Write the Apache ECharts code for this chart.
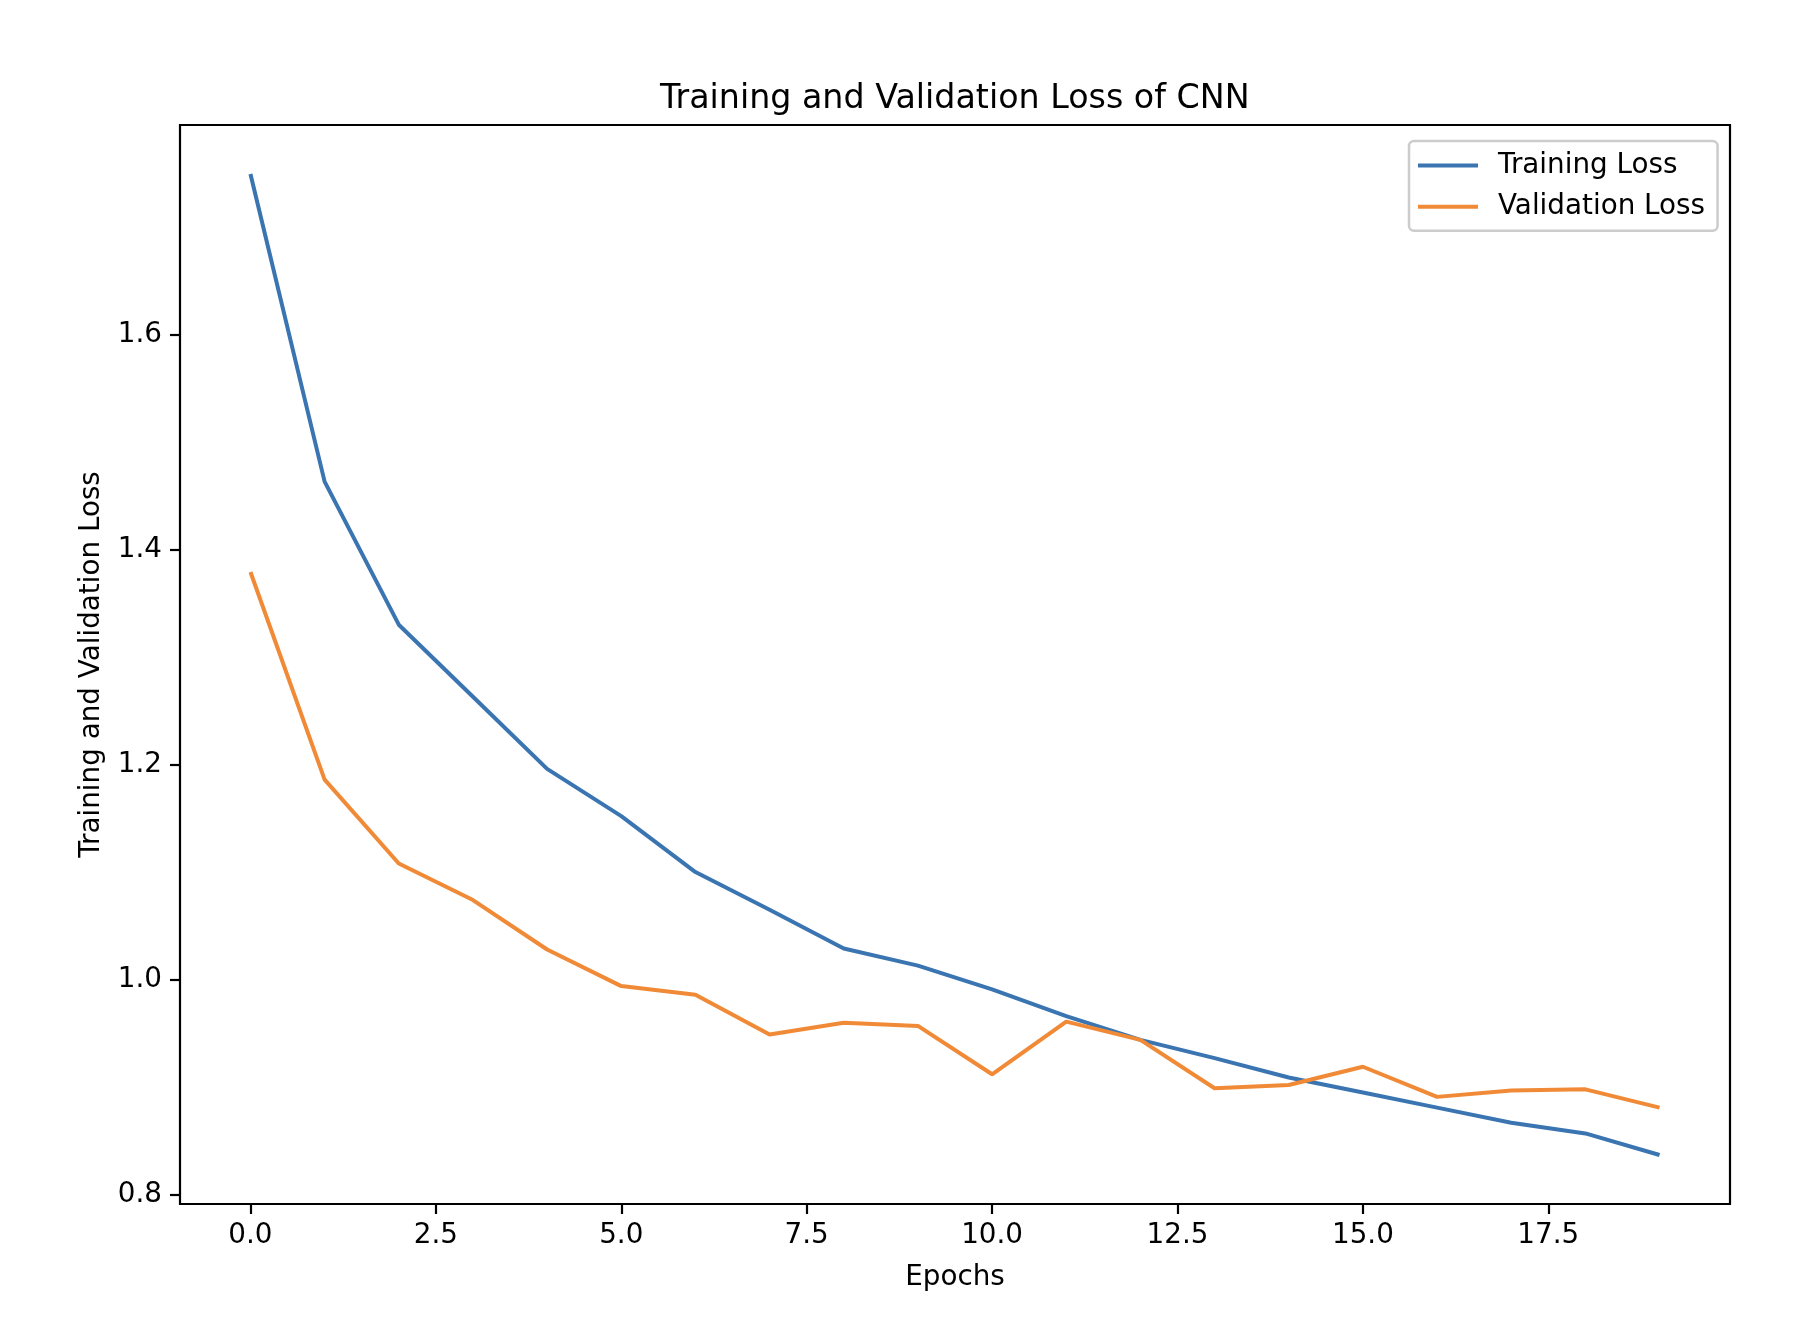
<!DOCTYPE html>
<html>
<head>
<meta charset="utf-8">
<script src="https://cdn.jsdelivr.net/npm/echarts@6/dist/echarts.min.js"></script>
<style>
  html, body { margin: 0; padding: 0; background: #fff; }
  #chart { width: 1812px; height: 1328px; }
</style>
</head>
<body>
<div id="chart"></div>
<script>
const epochs = [0, 1, 2, 3, 4, 5, 6, 7, 8, 9, 10, 11, 12, 13, 14, 15, 16, 17, 18, 19];
const trainingLoss = [1.749, 1.463, 1.330, 1.263, 1.196, 1.152, 1.100, 1.065, 1.029, 1.013, 0.991, 0.966, 0.944, 0.927, 0.909, 0.895, 0.881, 0.867, 0.857, 0.837];
const validationLoss = [1.379, 1.186, 1.108, 1.074, 1.028, 0.994, 0.986, 0.949, 0.960, 0.957, 0.912, 0.961, 0.944, 0.899, 0.902, 0.919, 0.891, 0.897, 0.898, 0.881];
const xTicks = [0, 2.5, 5, 7.5, 10, 12.5, 15, 17.5];
const yTicks = [0.8, 1.0, 1.2, 1.4, 1.6];
const seriesNames = ['Training Loss', 'Validation Loss'];
const titleText = 'Training and Validation Loss of CNN';
const xName = 'Epochs';
const yName = 'Training and Validation Loss';

const FONT = 'DejaVu Sans';
const chart = echarts.init(document.getElementById('chart'), null, { renderer: 'canvas' });

const option = {
  animation: false,
  backgroundColor: '#ffffff',
  title: {
    text: titleText,
    left: 660,
    top: 83,
    padding: 0,
    textStyle: { fontFamily: FONT, fontSize: 33.3, fontWeight: 'normal', color: '#000' }
  },
  legend: {
    orient: 'vertical',
    left: 1409,
    top: 141,
    padding: [10.5, 12.5, 10, 9],
    itemGap: 13.3,
    itemWidth: 60,
    itemHeight: 4,
    itemTextGap: 5,
    icon: 'rect',
    backgroundColor: 'rgba(255,255,255,0.8)',
    borderColor: '#cccccc',
    borderWidth: 2.5,
    borderRadius: 5,
    textStyle: { fontFamily: FONT, fontSize: 27.8, color: '#000', padding: [0, 0, 0, 15] },
    data: seriesNames
  },
  grid: {
    left: 180,
    right: 82,
    top: 125,
    bottom: 124,
    show: true,
    borderColor: '#000',
    borderWidth: 2.2,
    backgroundColor: 'transparent'
  },
  xAxis: {
    type: 'value',
    min: -0.95,
    max: 19.95,
    name: xName,
    nameLocation: 'middle',
    nameGap: 60,
    nameTextStyle: { fontFamily: FONT, fontSize: 27.8, color: '#000' },
    axisLine: { show: false, onZero: false },
    axisTick: { show: true, length: 10, inside: false, customValues: xTicks, lineStyle: { color: '#000', width: 2.2 } },
    axisLabel: { show: true, margin: 18, customValues: xTicks, fontFamily: FONT, fontSize: 27.8, color: '#000',
      formatter: v => Number(v).toFixed(1) },
    splitLine: { show: false }
  },
  yAxis: {
    type: 'value',
    min: 0.7914,
    max: 1.7946,
    name: yName,
    nameLocation: 'middle',
    nameRotate: 90,
    nameGap: 74,
    nameTextStyle: { fontFamily: FONT, fontSize: 27.8, color: '#000' },
    axisLine: { show: false, onZero: false },
    axisTick: { show: true, length: 10, inside: false, customValues: yTicks, lineStyle: { color: '#000', width: 2.2 } },
    axisLabel: { show: true, margin: 18, customValues: yTicks, fontFamily: FONT, fontSize: 27.8, color: '#000',
      formatter: v => Number(v).toFixed(1) },
    splitLine: { show: false }
  },
  series: [
    {
      name: seriesNames[0],
      type: 'line',
      symbol: 'none',
      data: epochs.map((e, i) => [e, trainingLoss[i]]),
      lineStyle: { color: '#3a75b1', width: 4 },
      itemStyle: { color: '#3a75b1' }
    },
    {
      name: seriesNames[1],
      type: 'line',
      symbol: 'none',
      data: epochs.map((e, i) => [e, validationLoss[i]]),
      lineStyle: { color: '#f08a36', width: 4 },
      itemStyle: { color: '#f08a36' }
    }
  ]
};
chart.setOption(option);
</script>
</body>
</html>
